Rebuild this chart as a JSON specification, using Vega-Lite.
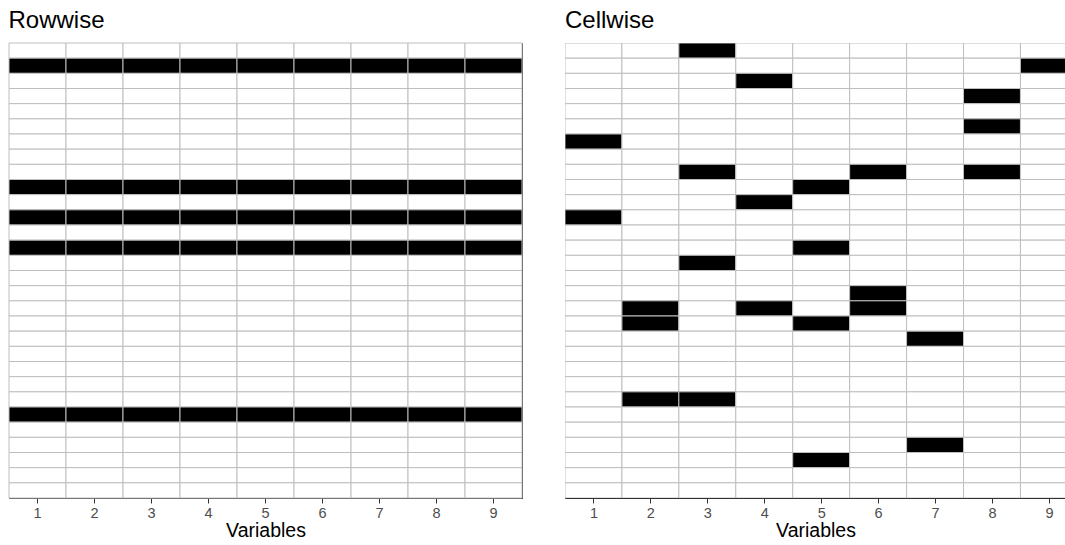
{
  "$schema": "https://vega.github.io/schema/vega-lite/v6.json",
  "padding": {"left": 8, "top": 8, "right": 0, "bottom": 0},
  "spacing": 42,
  "background": "#ffffff",
  "config": {
    "view": {"stroke": "#333333", "strokeWidth": 1},
    "axis": {"domainColor": "#333333", "tickColor": "#333333", "tickSize": 5, "labelColor": "#4d4d4d", "labelFont": "Liberation Sans", "labelFontSize": 14.5, "titleFont": "Liberation Sans", "titleFontSize": 19.5, "titleFontWeight": "normal", "titleColor": "#000000", "grid": false, "labelPadding": 3, "titlePadding": 2, "zindex": 1},
    "title": {"font": "Liberation Sans", "fontSize": 24, "fontWeight": "normal", "color": "#000000", "anchor": "start", "offset": 10}
  },
  "datasets": {
    "rowwise": [
      {"row":1,"var":1,"miss":0},{"row":1,"var":2,"miss":0},{"row":1,"var":3,"miss":0},{"row":1,"var":4,"miss":0},{"row":1,"var":5,"miss":0},{"row":1,"var":6,"miss":0},{"row":1,"var":7,"miss":0},{"row":1,"var":8,"miss":0},{"row":1,"var":9,"miss":0},
      {"row":2,"var":1,"miss":1},{"row":2,"var":2,"miss":1},{"row":2,"var":3,"miss":1},{"row":2,"var":4,"miss":1},{"row":2,"var":5,"miss":1},{"row":2,"var":6,"miss":1},{"row":2,"var":7,"miss":1},{"row":2,"var":8,"miss":1},{"row":2,"var":9,"miss":1},
      {"row":3,"var":1,"miss":0},{"row":3,"var":2,"miss":0},{"row":3,"var":3,"miss":0},{"row":3,"var":4,"miss":0},{"row":3,"var":5,"miss":0},{"row":3,"var":6,"miss":0},{"row":3,"var":7,"miss":0},{"row":3,"var":8,"miss":0},{"row":3,"var":9,"miss":0},
      {"row":4,"var":1,"miss":0},{"row":4,"var":2,"miss":0},{"row":4,"var":3,"miss":0},{"row":4,"var":4,"miss":0},{"row":4,"var":5,"miss":0},{"row":4,"var":6,"miss":0},{"row":4,"var":7,"miss":0},{"row":4,"var":8,"miss":0},{"row":4,"var":9,"miss":0},
      {"row":5,"var":1,"miss":0},{"row":5,"var":2,"miss":0},{"row":5,"var":3,"miss":0},{"row":5,"var":4,"miss":0},{"row":5,"var":5,"miss":0},{"row":5,"var":6,"miss":0},{"row":5,"var":7,"miss":0},{"row":5,"var":8,"miss":0},{"row":5,"var":9,"miss":0},
      {"row":6,"var":1,"miss":0},{"row":6,"var":2,"miss":0},{"row":6,"var":3,"miss":0},{"row":6,"var":4,"miss":0},{"row":6,"var":5,"miss":0},{"row":6,"var":6,"miss":0},{"row":6,"var":7,"miss":0},{"row":6,"var":8,"miss":0},{"row":6,"var":9,"miss":0},
      {"row":7,"var":1,"miss":0},{"row":7,"var":2,"miss":0},{"row":7,"var":3,"miss":0},{"row":7,"var":4,"miss":0},{"row":7,"var":5,"miss":0},{"row":7,"var":6,"miss":0},{"row":7,"var":7,"miss":0},{"row":7,"var":8,"miss":0},{"row":7,"var":9,"miss":0},
      {"row":8,"var":1,"miss":0},{"row":8,"var":2,"miss":0},{"row":8,"var":3,"miss":0},{"row":8,"var":4,"miss":0},{"row":8,"var":5,"miss":0},{"row":8,"var":6,"miss":0},{"row":8,"var":7,"miss":0},{"row":8,"var":8,"miss":0},{"row":8,"var":9,"miss":0},
      {"row":9,"var":1,"miss":0},{"row":9,"var":2,"miss":0},{"row":9,"var":3,"miss":0},{"row":9,"var":4,"miss":0},{"row":9,"var":5,"miss":0},{"row":9,"var":6,"miss":0},{"row":9,"var":7,"miss":0},{"row":9,"var":8,"miss":0},{"row":9,"var":9,"miss":0},
      {"row":10,"var":1,"miss":1},{"row":10,"var":2,"miss":1},{"row":10,"var":3,"miss":1},{"row":10,"var":4,"miss":1},{"row":10,"var":5,"miss":1},{"row":10,"var":6,"miss":1},{"row":10,"var":7,"miss":1},{"row":10,"var":8,"miss":1},{"row":10,"var":9,"miss":1},
      {"row":11,"var":1,"miss":0},{"row":11,"var":2,"miss":0},{"row":11,"var":3,"miss":0},{"row":11,"var":4,"miss":0},{"row":11,"var":5,"miss":0},{"row":11,"var":6,"miss":0},{"row":11,"var":7,"miss":0},{"row":11,"var":8,"miss":0},{"row":11,"var":9,"miss":0},
      {"row":12,"var":1,"miss":1},{"row":12,"var":2,"miss":1},{"row":12,"var":3,"miss":1},{"row":12,"var":4,"miss":1},{"row":12,"var":5,"miss":1},{"row":12,"var":6,"miss":1},{"row":12,"var":7,"miss":1},{"row":12,"var":8,"miss":1},{"row":12,"var":9,"miss":1},
      {"row":13,"var":1,"miss":0},{"row":13,"var":2,"miss":0},{"row":13,"var":3,"miss":0},{"row":13,"var":4,"miss":0},{"row":13,"var":5,"miss":0},{"row":13,"var":6,"miss":0},{"row":13,"var":7,"miss":0},{"row":13,"var":8,"miss":0},{"row":13,"var":9,"miss":0},
      {"row":14,"var":1,"miss":1},{"row":14,"var":2,"miss":1},{"row":14,"var":3,"miss":1},{"row":14,"var":4,"miss":1},{"row":14,"var":5,"miss":1},{"row":14,"var":6,"miss":1},{"row":14,"var":7,"miss":1},{"row":14,"var":8,"miss":1},{"row":14,"var":9,"miss":1},
      {"row":15,"var":1,"miss":0},{"row":15,"var":2,"miss":0},{"row":15,"var":3,"miss":0},{"row":15,"var":4,"miss":0},{"row":15,"var":5,"miss":0},{"row":15,"var":6,"miss":0},{"row":15,"var":7,"miss":0},{"row":15,"var":8,"miss":0},{"row":15,"var":9,"miss":0},
      {"row":16,"var":1,"miss":0},{"row":16,"var":2,"miss":0},{"row":16,"var":3,"miss":0},{"row":16,"var":4,"miss":0},{"row":16,"var":5,"miss":0},{"row":16,"var":6,"miss":0},{"row":16,"var":7,"miss":0},{"row":16,"var":8,"miss":0},{"row":16,"var":9,"miss":0},
      {"row":17,"var":1,"miss":0},{"row":17,"var":2,"miss":0},{"row":17,"var":3,"miss":0},{"row":17,"var":4,"miss":0},{"row":17,"var":5,"miss":0},{"row":17,"var":6,"miss":0},{"row":17,"var":7,"miss":0},{"row":17,"var":8,"miss":0},{"row":17,"var":9,"miss":0},
      {"row":18,"var":1,"miss":0},{"row":18,"var":2,"miss":0},{"row":18,"var":3,"miss":0},{"row":18,"var":4,"miss":0},{"row":18,"var":5,"miss":0},{"row":18,"var":6,"miss":0},{"row":18,"var":7,"miss":0},{"row":18,"var":8,"miss":0},{"row":18,"var":9,"miss":0},
      {"row":19,"var":1,"miss":0},{"row":19,"var":2,"miss":0},{"row":19,"var":3,"miss":0},{"row":19,"var":4,"miss":0},{"row":19,"var":5,"miss":0},{"row":19,"var":6,"miss":0},{"row":19,"var":7,"miss":0},{"row":19,"var":8,"miss":0},{"row":19,"var":9,"miss":0},
      {"row":20,"var":1,"miss":0},{"row":20,"var":2,"miss":0},{"row":20,"var":3,"miss":0},{"row":20,"var":4,"miss":0},{"row":20,"var":5,"miss":0},{"row":20,"var":6,"miss":0},{"row":20,"var":7,"miss":0},{"row":20,"var":8,"miss":0},{"row":20,"var":9,"miss":0},
      {"row":21,"var":1,"miss":0},{"row":21,"var":2,"miss":0},{"row":21,"var":3,"miss":0},{"row":21,"var":4,"miss":0},{"row":21,"var":5,"miss":0},{"row":21,"var":6,"miss":0},{"row":21,"var":7,"miss":0},{"row":21,"var":8,"miss":0},{"row":21,"var":9,"miss":0},
      {"row":22,"var":1,"miss":0},{"row":22,"var":2,"miss":0},{"row":22,"var":3,"miss":0},{"row":22,"var":4,"miss":0},{"row":22,"var":5,"miss":0},{"row":22,"var":6,"miss":0},{"row":22,"var":7,"miss":0},{"row":22,"var":8,"miss":0},{"row":22,"var":9,"miss":0},
      {"row":23,"var":1,"miss":0},{"row":23,"var":2,"miss":0},{"row":23,"var":3,"miss":0},{"row":23,"var":4,"miss":0},{"row":23,"var":5,"miss":0},{"row":23,"var":6,"miss":0},{"row":23,"var":7,"miss":0},{"row":23,"var":8,"miss":0},{"row":23,"var":9,"miss":0},
      {"row":24,"var":1,"miss":0},{"row":24,"var":2,"miss":0},{"row":24,"var":3,"miss":0},{"row":24,"var":4,"miss":0},{"row":24,"var":5,"miss":0},{"row":24,"var":6,"miss":0},{"row":24,"var":7,"miss":0},{"row":24,"var":8,"miss":0},{"row":24,"var":9,"miss":0},
      {"row":25,"var":1,"miss":1},{"row":25,"var":2,"miss":1},{"row":25,"var":3,"miss":1},{"row":25,"var":4,"miss":1},{"row":25,"var":5,"miss":1},{"row":25,"var":6,"miss":1},{"row":25,"var":7,"miss":1},{"row":25,"var":8,"miss":1},{"row":25,"var":9,"miss":1},
      {"row":26,"var":1,"miss":0},{"row":26,"var":2,"miss":0},{"row":26,"var":3,"miss":0},{"row":26,"var":4,"miss":0},{"row":26,"var":5,"miss":0},{"row":26,"var":6,"miss":0},{"row":26,"var":7,"miss":0},{"row":26,"var":8,"miss":0},{"row":26,"var":9,"miss":0},
      {"row":27,"var":1,"miss":0},{"row":27,"var":2,"miss":0},{"row":27,"var":3,"miss":0},{"row":27,"var":4,"miss":0},{"row":27,"var":5,"miss":0},{"row":27,"var":6,"miss":0},{"row":27,"var":7,"miss":0},{"row":27,"var":8,"miss":0},{"row":27,"var":9,"miss":0},
      {"row":28,"var":1,"miss":0},{"row":28,"var":2,"miss":0},{"row":28,"var":3,"miss":0},{"row":28,"var":4,"miss":0},{"row":28,"var":5,"miss":0},{"row":28,"var":6,"miss":0},{"row":28,"var":7,"miss":0},{"row":28,"var":8,"miss":0},{"row":28,"var":9,"miss":0},
      {"row":29,"var":1,"miss":0},{"row":29,"var":2,"miss":0},{"row":29,"var":3,"miss":0},{"row":29,"var":4,"miss":0},{"row":29,"var":5,"miss":0},{"row":29,"var":6,"miss":0},{"row":29,"var":7,"miss":0},{"row":29,"var":8,"miss":0},{"row":29,"var":9,"miss":0},
      {"row":30,"var":1,"miss":0},{"row":30,"var":2,"miss":0},{"row":30,"var":3,"miss":0},{"row":30,"var":4,"miss":0},{"row":30,"var":5,"miss":0},{"row":30,"var":6,"miss":0},{"row":30,"var":7,"miss":0},{"row":30,"var":8,"miss":0},{"row":30,"var":9,"miss":0}
    ],
    "cellwise": [
      {"row":1,"var":1,"miss":0},{"row":1,"var":2,"miss":0},{"row":1,"var":3,"miss":1},{"row":1,"var":4,"miss":0},{"row":1,"var":5,"miss":0},{"row":1,"var":6,"miss":0},{"row":1,"var":7,"miss":0},{"row":1,"var":8,"miss":0},{"row":1,"var":9,"miss":0},
      {"row":2,"var":1,"miss":0},{"row":2,"var":2,"miss":0},{"row":2,"var":3,"miss":0},{"row":2,"var":4,"miss":0},{"row":2,"var":5,"miss":0},{"row":2,"var":6,"miss":0},{"row":2,"var":7,"miss":0},{"row":2,"var":8,"miss":0},{"row":2,"var":9,"miss":1},
      {"row":3,"var":1,"miss":0},{"row":3,"var":2,"miss":0},{"row":3,"var":3,"miss":0},{"row":3,"var":4,"miss":1},{"row":3,"var":5,"miss":0},{"row":3,"var":6,"miss":0},{"row":3,"var":7,"miss":0},{"row":3,"var":8,"miss":0},{"row":3,"var":9,"miss":0},
      {"row":4,"var":1,"miss":0},{"row":4,"var":2,"miss":0},{"row":4,"var":3,"miss":0},{"row":4,"var":4,"miss":0},{"row":4,"var":5,"miss":0},{"row":4,"var":6,"miss":0},{"row":4,"var":7,"miss":0},{"row":4,"var":8,"miss":1},{"row":4,"var":9,"miss":0},
      {"row":5,"var":1,"miss":0},{"row":5,"var":2,"miss":0},{"row":5,"var":3,"miss":0},{"row":5,"var":4,"miss":0},{"row":5,"var":5,"miss":0},{"row":5,"var":6,"miss":0},{"row":5,"var":7,"miss":0},{"row":5,"var":8,"miss":0},{"row":5,"var":9,"miss":0},
      {"row":6,"var":1,"miss":0},{"row":6,"var":2,"miss":0},{"row":6,"var":3,"miss":0},{"row":6,"var":4,"miss":0},{"row":6,"var":5,"miss":0},{"row":6,"var":6,"miss":0},{"row":6,"var":7,"miss":0},{"row":6,"var":8,"miss":1},{"row":6,"var":9,"miss":0},
      {"row":7,"var":1,"miss":1},{"row":7,"var":2,"miss":0},{"row":7,"var":3,"miss":0},{"row":7,"var":4,"miss":0},{"row":7,"var":5,"miss":0},{"row":7,"var":6,"miss":0},{"row":7,"var":7,"miss":0},{"row":7,"var":8,"miss":0},{"row":7,"var":9,"miss":0},
      {"row":8,"var":1,"miss":0},{"row":8,"var":2,"miss":0},{"row":8,"var":3,"miss":0},{"row":8,"var":4,"miss":0},{"row":8,"var":5,"miss":0},{"row":8,"var":6,"miss":0},{"row":8,"var":7,"miss":0},{"row":8,"var":8,"miss":0},{"row":8,"var":9,"miss":0},
      {"row":9,"var":1,"miss":0},{"row":9,"var":2,"miss":0},{"row":9,"var":3,"miss":1},{"row":9,"var":4,"miss":0},{"row":9,"var":5,"miss":0},{"row":9,"var":6,"miss":1},{"row":9,"var":7,"miss":0},{"row":9,"var":8,"miss":1},{"row":9,"var":9,"miss":0},
      {"row":10,"var":1,"miss":0},{"row":10,"var":2,"miss":0},{"row":10,"var":3,"miss":0},{"row":10,"var":4,"miss":0},{"row":10,"var":5,"miss":1},{"row":10,"var":6,"miss":0},{"row":10,"var":7,"miss":0},{"row":10,"var":8,"miss":0},{"row":10,"var":9,"miss":0},
      {"row":11,"var":1,"miss":0},{"row":11,"var":2,"miss":0},{"row":11,"var":3,"miss":0},{"row":11,"var":4,"miss":1},{"row":11,"var":5,"miss":0},{"row":11,"var":6,"miss":0},{"row":11,"var":7,"miss":0},{"row":11,"var":8,"miss":0},{"row":11,"var":9,"miss":0},
      {"row":12,"var":1,"miss":1},{"row":12,"var":2,"miss":0},{"row":12,"var":3,"miss":0},{"row":12,"var":4,"miss":0},{"row":12,"var":5,"miss":0},{"row":12,"var":6,"miss":0},{"row":12,"var":7,"miss":0},{"row":12,"var":8,"miss":0},{"row":12,"var":9,"miss":0},
      {"row":13,"var":1,"miss":0},{"row":13,"var":2,"miss":0},{"row":13,"var":3,"miss":0},{"row":13,"var":4,"miss":0},{"row":13,"var":5,"miss":0},{"row":13,"var":6,"miss":0},{"row":13,"var":7,"miss":0},{"row":13,"var":8,"miss":0},{"row":13,"var":9,"miss":0},
      {"row":14,"var":1,"miss":0},{"row":14,"var":2,"miss":0},{"row":14,"var":3,"miss":0},{"row":14,"var":4,"miss":0},{"row":14,"var":5,"miss":1},{"row":14,"var":6,"miss":0},{"row":14,"var":7,"miss":0},{"row":14,"var":8,"miss":0},{"row":14,"var":9,"miss":0},
      {"row":15,"var":1,"miss":0},{"row":15,"var":2,"miss":0},{"row":15,"var":3,"miss":1},{"row":15,"var":4,"miss":0},{"row":15,"var":5,"miss":0},{"row":15,"var":6,"miss":0},{"row":15,"var":7,"miss":0},{"row":15,"var":8,"miss":0},{"row":15,"var":9,"miss":0},
      {"row":16,"var":1,"miss":0},{"row":16,"var":2,"miss":0},{"row":16,"var":3,"miss":0},{"row":16,"var":4,"miss":0},{"row":16,"var":5,"miss":0},{"row":16,"var":6,"miss":0},{"row":16,"var":7,"miss":0},{"row":16,"var":8,"miss":0},{"row":16,"var":9,"miss":0},
      {"row":17,"var":1,"miss":0},{"row":17,"var":2,"miss":0},{"row":17,"var":3,"miss":0},{"row":17,"var":4,"miss":0},{"row":17,"var":5,"miss":0},{"row":17,"var":6,"miss":1},{"row":17,"var":7,"miss":0},{"row":17,"var":8,"miss":0},{"row":17,"var":9,"miss":0},
      {"row":18,"var":1,"miss":0},{"row":18,"var":2,"miss":1},{"row":18,"var":3,"miss":0},{"row":18,"var":4,"miss":1},{"row":18,"var":5,"miss":0},{"row":18,"var":6,"miss":1},{"row":18,"var":7,"miss":0},{"row":18,"var":8,"miss":0},{"row":18,"var":9,"miss":0},
      {"row":19,"var":1,"miss":0},{"row":19,"var":2,"miss":1},{"row":19,"var":3,"miss":0},{"row":19,"var":4,"miss":0},{"row":19,"var":5,"miss":1},{"row":19,"var":6,"miss":0},{"row":19,"var":7,"miss":0},{"row":19,"var":8,"miss":0},{"row":19,"var":9,"miss":0},
      {"row":20,"var":1,"miss":0},{"row":20,"var":2,"miss":0},{"row":20,"var":3,"miss":0},{"row":20,"var":4,"miss":0},{"row":20,"var":5,"miss":0},{"row":20,"var":6,"miss":0},{"row":20,"var":7,"miss":1},{"row":20,"var":8,"miss":0},{"row":20,"var":9,"miss":0},
      {"row":21,"var":1,"miss":0},{"row":21,"var":2,"miss":0},{"row":21,"var":3,"miss":0},{"row":21,"var":4,"miss":0},{"row":21,"var":5,"miss":0},{"row":21,"var":6,"miss":0},{"row":21,"var":7,"miss":0},{"row":21,"var":8,"miss":0},{"row":21,"var":9,"miss":0},
      {"row":22,"var":1,"miss":0},{"row":22,"var":2,"miss":0},{"row":22,"var":3,"miss":0},{"row":22,"var":4,"miss":0},{"row":22,"var":5,"miss":0},{"row":22,"var":6,"miss":0},{"row":22,"var":7,"miss":0},{"row":22,"var":8,"miss":0},{"row":22,"var":9,"miss":0},
      {"row":23,"var":1,"miss":0},{"row":23,"var":2,"miss":0},{"row":23,"var":3,"miss":0},{"row":23,"var":4,"miss":0},{"row":23,"var":5,"miss":0},{"row":23,"var":6,"miss":0},{"row":23,"var":7,"miss":0},{"row":23,"var":8,"miss":0},{"row":23,"var":9,"miss":0},
      {"row":24,"var":1,"miss":0},{"row":24,"var":2,"miss":1},{"row":24,"var":3,"miss":1},{"row":24,"var":4,"miss":0},{"row":24,"var":5,"miss":0},{"row":24,"var":6,"miss":0},{"row":24,"var":7,"miss":0},{"row":24,"var":8,"miss":0},{"row":24,"var":9,"miss":0},
      {"row":25,"var":1,"miss":0},{"row":25,"var":2,"miss":0},{"row":25,"var":3,"miss":0},{"row":25,"var":4,"miss":0},{"row":25,"var":5,"miss":0},{"row":25,"var":6,"miss":0},{"row":25,"var":7,"miss":0},{"row":25,"var":8,"miss":0},{"row":25,"var":9,"miss":0},
      {"row":26,"var":1,"miss":0},{"row":26,"var":2,"miss":0},{"row":26,"var":3,"miss":0},{"row":26,"var":4,"miss":0},{"row":26,"var":5,"miss":0},{"row":26,"var":6,"miss":0},{"row":26,"var":7,"miss":0},{"row":26,"var":8,"miss":0},{"row":26,"var":9,"miss":0},
      {"row":27,"var":1,"miss":0},{"row":27,"var":2,"miss":0},{"row":27,"var":3,"miss":0},{"row":27,"var":4,"miss":0},{"row":27,"var":5,"miss":0},{"row":27,"var":6,"miss":0},{"row":27,"var":7,"miss":1},{"row":27,"var":8,"miss":0},{"row":27,"var":9,"miss":0},
      {"row":28,"var":1,"miss":0},{"row":28,"var":2,"miss":0},{"row":28,"var":3,"miss":0},{"row":28,"var":4,"miss":0},{"row":28,"var":5,"miss":1},{"row":28,"var":6,"miss":0},{"row":28,"var":7,"miss":0},{"row":28,"var":8,"miss":0},{"row":28,"var":9,"miss":0},
      {"row":29,"var":1,"miss":0},{"row":29,"var":2,"miss":0},{"row":29,"var":3,"miss":0},{"row":29,"var":4,"miss":0},{"row":29,"var":5,"miss":0},{"row":29,"var":6,"miss":0},{"row":29,"var":7,"miss":0},{"row":29,"var":8,"miss":0},{"row":29,"var":9,"miss":0},
      {"row":30,"var":1,"miss":0},{"row":30,"var":2,"miss":0},{"row":30,"var":3,"miss":0},{"row":30,"var":4,"miss":0},{"row":30,"var":5,"miss":0},{"row":30,"var":6,"miss":0},{"row":30,"var":7,"miss":0},{"row":30,"var":8,"miss":0},{"row":30,"var":9,"miss":0}
    ]
  },
  "hconcat": [
    {
      "data": {"name": "rowwise"},
      "width": 513,
      "height": 455,
      "title": {"text": "Rowwise"},
      "mark": {"type": "rect", "stroke": "#bebebe", "strokeWidth": 1},
      "encoding": {
        "x": {"field": "var", "type": "ordinal", "scale": {"paddingInner": 0, "paddingOuter": 0}, "axis": {"title": "Variables", "labelAngle": 0}},
        "y": {"field": "row", "type": "ordinal", "scale": {"paddingInner": 0, "paddingOuter": 0}, "axis": null},
        "fill": {"field": "miss", "type": "nominal", "scale": {"domain": [0, 1], "range": ["#ffffff", "#000000"]}, "legend": null}
      }
    },
    {
      "data": {"name": "cellwise"},
      "width": 501,
      "height": 455,
      "title": {"text": "Cellwise"},
      "view": {"stroke": null},
      "layer": [
        {
          "mark": {"type": "rect", "stroke": "#bebebe", "strokeWidth": 1, "xOffset": -28.47, "x2Offset": 28.47, "clip": true},
          "encoding": {
            "x": {"field": "var", "type": "quantitative", "scale": {"domain": [0.5, 9.3], "nice": false, "zero": false}, "axis": {"title": "Variables", "values": [1, 2, 3, 4, 5, 6, 7, 8, 9], "format": "d", "labelAngle": 0}},
            "x2": {"field": "var"},
            "y": {"field": "row", "type": "ordinal", "scale": {"paddingInner": 0, "paddingOuter": 0}, "axis": {"title": null, "labels": false, "ticks": false, "domain": true}},
            "fill": {"field": "miss", "type": "nominal", "scale": {"domain": [0, 1], "range": ["#ffffff", "#000000"]}, "legend": null}
          }
        },
        {
          "mark": {"type": "rect", "opacity": 0, "xOffset": -28.47, "x2Offset": 28.47, "clip": true},
          "encoding": {
            "x": {"field": "var", "type": "quantitative", "axis": {"orient": "top", "title": null, "labels": false, "ticks": false, "domain": true}},
            "x2": {"field": "var"},
            "y": {"field": "row", "type": "ordinal"}
          }
        }
      ],
      "resolve": {"axis": {"x": "independent"}}
    }
  ]
}
